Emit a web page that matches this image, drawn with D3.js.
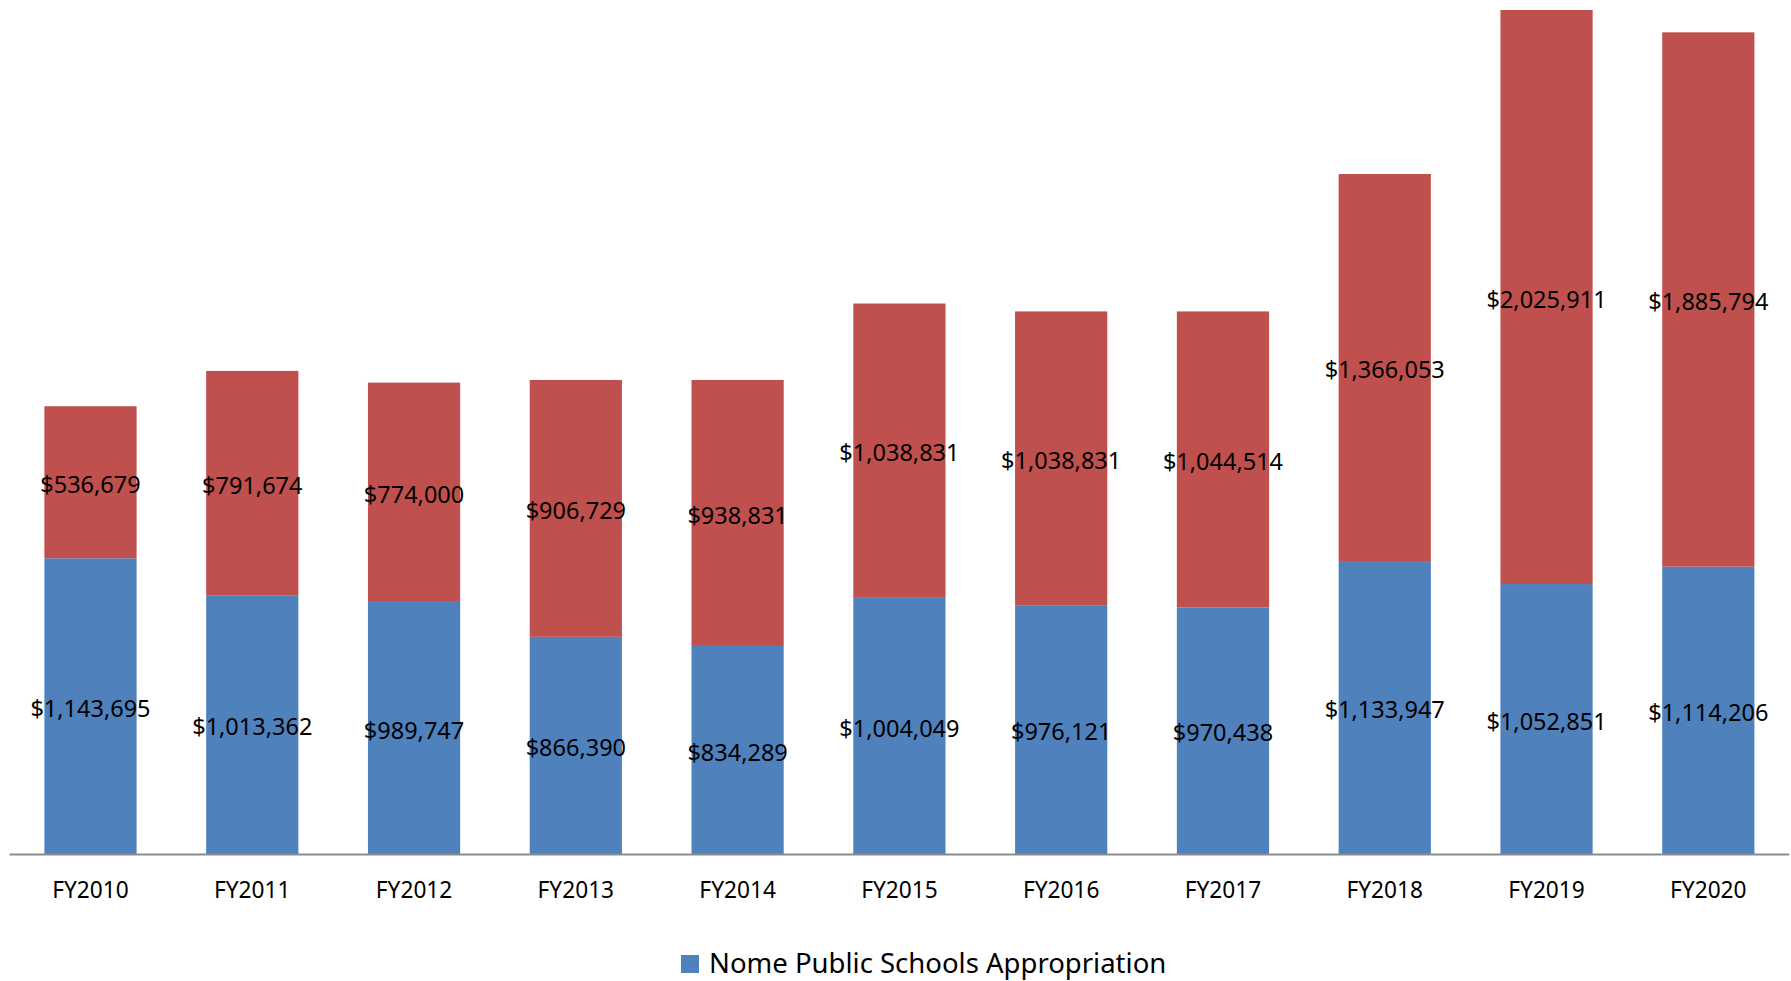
<!DOCTYPE html>
<html>
<head>
<meta charset="utf-8">
<script src="https://cdn.jsdelivr.net/npm/d3@7"></script>
<style>
  html, body { margin: 0; padding: 0; background: #ffffff; }
  svg { display: block; }
  text { font-family: "Noto Sans", "Open Sans", sans-serif; fill: #000; }
</style>
</head>
<body>
<svg id="chart" width="1791" height="981"></svg>
<script>
// Fiscal years along the x axis
const years = ["FY2010", "FY2011", "FY2012", "FY2013", "FY2014", "FY2015",
               "FY2016", "FY2017", "FY2018", "FY2019", "FY2020"];

// Nome Public Schools appropriation (bottom segment)
const schoolsAppropriation = [1143695, 1013362, 989747, 866390, 834289, 1004049,
                              976121, 970438, 1133947, 1052851, 1114206];

// Second stacked segment (top)
const secondSegment = [536679, 791674, 774000, 906729, 938831, 1038831,
                       1038831, 1044514, 1366053, 2025911, 1885794];

const seriesColors = ["#4F81BD", "#C0504D"];
const legendNames = ["Nome Public Schools Appropriation"];

const plot = { left: 9.6, right: 1789.2, top: 4, bottom: 854 };

const svg = d3.select("#chart");

const x = d3.scaleBand()
  .domain(years)
  .range([plot.left, plot.right])
  .paddingInner(0.43)
  .paddingOuter(0.215);

// Value axis starts at 100,000 and tops out at 3,100,000
const y = d3.scaleLinear()
  .domain([100000, 3100000])
  .range([plot.bottom, plot.top]);

const rows = years.map((yr, i) => ({ year: yr, a: schoolsAppropriation[i], b: secondSegment[i] }));
const layers = d3.stack().keys(["a", "b"])(rows);

const fmt = d3.format("$,");
const floorVal = y.domain()[0];

const gBars = svg.append("g");
layers.forEach((layer, li) => {
  gBars.append("g")
    .attr("fill", seriesColors[li])
    .selectAll("rect")
    .data(layer)
    .join("rect")
    .attr("x", d => x(d.data.year))
    .attr("width", x.bandwidth())
    .attr("y", d => y(d[1]))
    .attr("height", d => y(Math.max(d[0], floorVal)) - y(d[1]));
});

// Data labels centred in each segment
const gLabels = svg.append("g")
  .attr("font-size", 23.5)
  .attr("text-anchor", "middle");
layers.forEach((layer) => {
  gLabels.append("g")
    .selectAll("text")
    .data(layer)
    .join("text")
    .attr("x", d => x(d.data.year) + x.bandwidth() / 2)
    .attr("y", d => (y(Math.max(d[0], floorVal)) + y(d[1])) / 2)
    .attr("dy", "0.45em")
    .text(d => fmt(d[1] - d[0]));
});

// Category axis
const gx = svg.append("g")
  .attr("transform", `translate(0,${plot.bottom})`)
  .call(d3.axisBottom(x).tickSize(0).tickPadding(0));
gx.select(".domain")
  .attr("d", `M${plot.left},0.5H${plot.right}`)
  .attr("stroke", "#8c8c8c")
  .attr("stroke-width", 2);
gx.selectAll(".tick text")
  .attr("font-family", "Noto Sans, sans-serif")
  .attr("font-size", 22.7)
  .attr("fill", "#000")
  .attr("y", 36)
  .attr("dy", "0.36em");

// Legend
const legend = svg.append("g").attr("transform", "translate(681,955)");
legend.selectAll("rect")
  .data(legendNames)
  .join("rect")
  .attr("x", 0)
  .attr("y", 0)
  .attr("width", 18)
  .attr("height", 18)
  .attr("fill", seriesColors[0]);
legend.selectAll("text")
  .data(legendNames)
  .join("text")
  .attr("x", 28)
  .attr("y", 17.7)
  .attr("font-size", 27.5)
  .text(d => d);
</script>
</body>
</html>
